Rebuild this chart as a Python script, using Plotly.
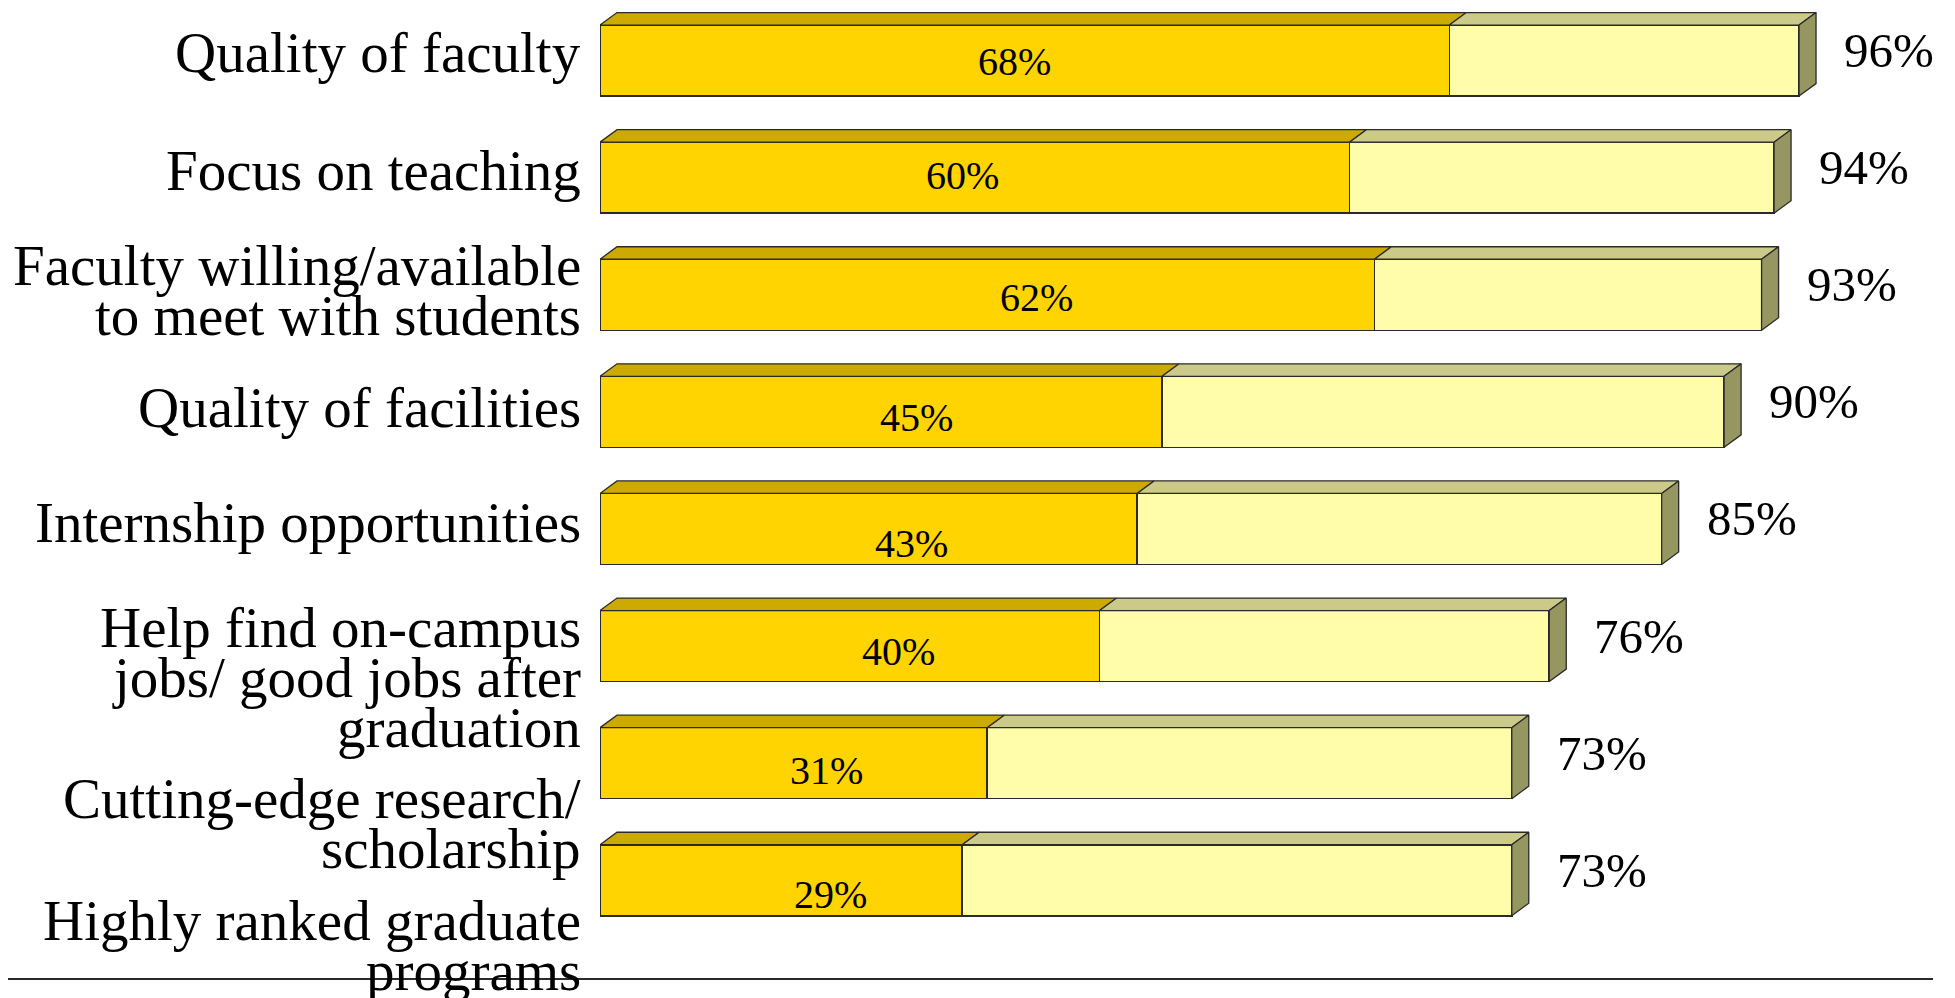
import plotly.graph_objects as go

# ---------------- data ----------------
categories = [
    "Quality of faculty",
    "Focus on teaching",
    "Faculty willing/available<br>to meet with students",
    "Quality of facilities",
    "Internship opportunities",
    "Help find on-campus<br>jobs/ good jobs after<br>graduation",
    "Cutting-edge research/<br>scholarship",
    "Highly ranked graduate<br>programs",
]
very_important = [68, 60, 62, 45, 43, 40, 31, 29]
total_important = [96, 94, 93, 90, 85, 76, 73, 73]

# ---------------- layout constants ----------------
OFF = 8                       # page body margin compensation
W, H = 1955 - OFF, 998 - OFF
ML, MR, MT = 600 - OFF, 106, 0
PLOT_BOTTOM = 979 - OFF
MB = H - PLOT_BOTTOM
X_RANGE = [0, 100]
PX_X = (W - ML - MR) / (X_RANGE[1] - X_RANGE[0])
PX_Y = 117.1
FIRST_CENTER = 60.55 - OFF
Y_TOP = -(FIRST_CENTER - MT) / PX_Y
Y_BOTTOM = Y_TOP + (PLOT_BOTTOM - MT) / PX_Y

BAR_W = 71 / PX_Y          # bar thickness in category units
DX = 17 / PX_X             # 3D depth, horizontal (data units)
DY = 12.5 / PX_Y           # 3D depth, vertical (data units)

FONT = "Liberation Serif, Times New Roman, serif"
DARK, DARK_TOP = "#FFD400", "#CCAA00"
LIGHT, LIGHT_TOP = "#FFFCAA", "#CCCA88"
SIDE = "#969660"
EDGE = "#2a2a2a"

# text placement nudges (pixels)
label_nudge_px = [-8, -7, -4.5, -4, -6, 31, 60, 65]
inner_nudge_x_px = [-10, -12, 49, 35, 43, 49, 33, 49]
inner_nudge_y_px = [1, -2, 3, 6, 15, 5, 7, 14]
LINE_PX = 50

idx = list(range(len(categories)))
somewhat = [t - v for t, v in zip(total_important, very_important)]

fig = go.Figure()

# front faces (stacked bars)
fig.add_trace(go.Bar(
    x=very_important, y=idx, orientation="h", width=BAR_W,
    marker=dict(color=DARK, line=dict(color=EDGE, width=1.5)),
    hoverinfo="skip",
))
fig.add_trace(go.Bar(
    x=somewhat, y=idx, orientation="h", width=BAR_W,
    marker=dict(color=LIGHT, line=dict(color=EDGE, width=1.5)),
    hoverinfo="skip",
))


def poly_trace(polys, color):
    xs, ys = [], []
    for p in polys:
        for (px, py) in p:
            xs.append(px)
            ys.append(py)
        xs.append(p[0][0]); ys.append(p[0][1])
        xs.append(None); ys.append(None)
    return go.Scatter(x=xs, y=ys, mode="lines", fill="toself",
                      fillcolor=color, line=dict(color=EDGE, width=1.3),
                      hoverinfo="skip", showlegend=False)


dark_tops, light_tops, sides = [], [], []
for i, v, t in zip(idx, very_important, total_important):
    yt = i - BAR_W / 2
    yb = i + BAR_W / 2
    dark_tops.append([(0, yt), (v, yt), (v + DX, yt - DY), (DX, yt - DY)])
    light_tops.append([(v, yt), (t, yt), (t + DX, yt - DY), (v + DX, yt - DY)])
    sides.append([(t, yt), (t + DX, yt - DY), (t + DX, yb - DY), (t, yb)])

fig.add_trace(poly_trace(dark_tops, DARK_TOP))
fig.add_trace(poly_trace(light_tops, LIGHT_TOP))
fig.add_trace(poly_trace(sides, SIDE))

annotations = []
# inner labels (very important)
for i, v, nx, ny in zip(idx, very_important, inner_nudge_x_px, inner_nudge_y_px):
    annotations.append(dict(
        x=v / 2, y=i, xref="x", yref="y", text=f"{v}%", showarrow=False,
        xanchor="center", yanchor="middle", xshift=nx, yshift=-ny,
        font=dict(family=FONT, size=40, color="black"),
    ))

# total labels at right
for i, t in zip(idx, total_important):
    annotations.append(dict(
        x=t, y=i, xref="x", yref="y", text=f"{t}%", showarrow=False,
        xanchor="left", yanchor="middle", xshift=43, yshift=10,
        font=dict(family=FONT, size=49, color="black"),
    ))

# category labels, line by line
for i, cat, nudge in zip(idx, categories, label_nudge_px):
    lines = cat.split("<br>")
    n = len(lines)
    for k, ln in enumerate(lines):
        off = nudge + (k - (n - 1) / 2) * LINE_PX
        annotations.append(dict(
            x=0, y=i, xref="x", yref="y", text=ln, showarrow=False,
            xanchor="right", yanchor="middle", xshift=-17, yshift=-off,
            font=dict(family=FONT, size=57, color="black"),
        ))

plot_w = W - ML - MR
fig.update_layout(
    width=W, height=H,
    margin=dict(l=ML, r=MR, t=MT, b=MB, pad=0),
    barmode="stack",
    showlegend=False,
    plot_bgcolor="white", paper_bgcolor="white",
    xaxis=dict(range=X_RANGE, showgrid=False, zeroline=False,
               showticklabels=False, showline=False, fixedrange=True),
    yaxis=dict(range=[Y_BOTTOM, Y_TOP], showgrid=False, zeroline=False,
               showticklabels=False, showline=False, fixedrange=True),
    annotations=annotations,
    shapes=[dict(type="line", xref="paper", yref="paper",
                 x0=(0 - ML) / plot_w, x1=(1933 - OFF - ML) / plot_w,
                 y0=0, y1=0,
                 line=dict(color=EDGE, width=2), layer="above")],
)

fig.write_html("out.html", config={"displayModeBar": False})
